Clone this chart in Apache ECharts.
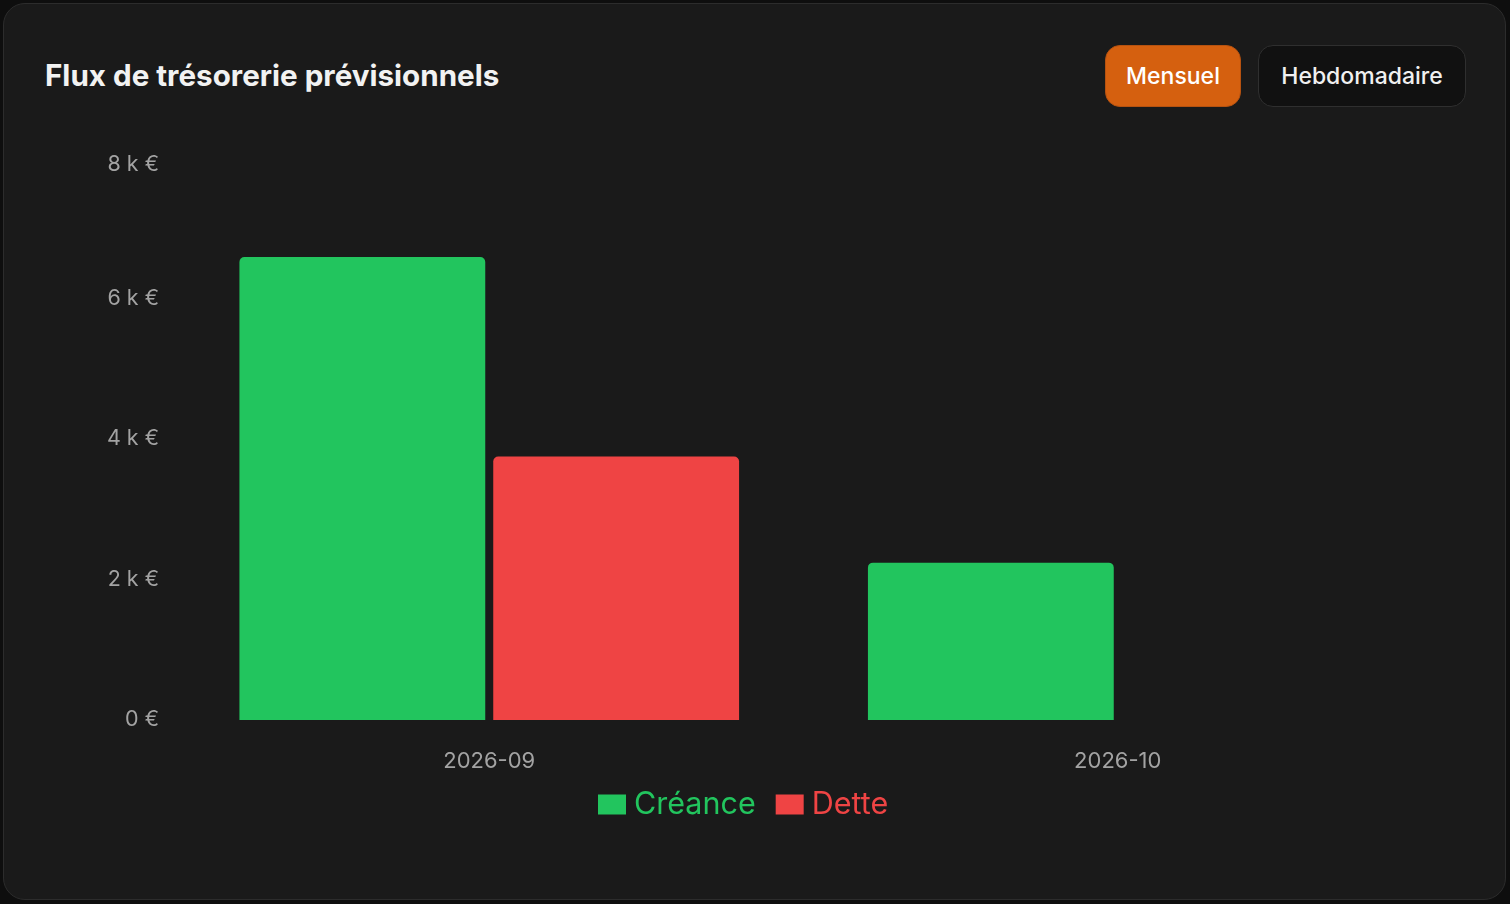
<!DOCTYPE html>
<html>
<head>
<meta charset="utf-8">
<script src="https://cdn.jsdelivr.net/npm/echarts@6/dist/echarts.min.js"></script>
<style>
  html, body { margin:0; padding:0; width:1510px; height:904px; background:#0e0e0e; overflow:hidden; font-family: Inter, "Noto Sans", sans-serif; }
  #card { position:absolute; left:3px; top:3px; width:1501px; height:895px; border:1.5px solid #2c2c2c; border-radius:22px; background:#1a1a1a; }
  #title { position:absolute; left:45px; top:55px; color:#f2f2f2; font-size:29.6px; font-weight:700; line-height:40px; }
  .btn { position:absolute; top:45px; height:62px; border-radius:15px; box-sizing:border-box; display:flex; align-items:center; justify-content:center; font-size:23px; font-weight:500; }
  #b1 { left:1105px; width:136px; background:#d5600f; border:1.5px solid #b65210; color:#fff; }
  #b2 { left:1258px; width:208px; background:#111111; border:1.5px solid #2f2f2f; color:#f0f0f0; }
  #chart { position:absolute; left:0; top:0; width:1510px; height:904px; }
</style>
</head>
<body>
<div id="card"></div>
<div id="title">Flux de trésorerie prévisionnels</div>
<div class="btn" id="b1">Mensuel</div>
<div class="btn" id="b2">Hebdomadaire</div>
<div id="chart"></div>
<script>
const categories = ['2026-09', '2026-10'];
const creance = [6590, 2240];
const dette = [3750, 0];
const seriesNames = ['Créance', 'Dette'];
const yTicks = [0, 2000, 4000, 6000, 8000];

const yMax = yTicks[yTicks.length - 1];
const chart = echarts.init(document.getElementById('chart'), null, { renderer: 'canvas' });
chart.setOption({
  backgroundColor: 'transparent',
  animation: false,
  grid: { left: 175, right: 78, top: 158, bottom: 184, containLabel: false },
  legend: {
    bottom: 79, left: 593,
    icon: 'rect', itemWidth: 28, itemHeight: 20, itemGap: 20,
    data: [
      { name: seriesNames[0], textStyle: { color: '#22c55e' } },
      { name: seriesNames[1], textStyle: { color: '#ef4444' } }
    ],
    textStyle: { fontSize: 30.5, fontFamily: 'Inter, sans-serif', padding: [0, 0, 0, 3] }
  },
  xAxis: {
    type: 'category', data: categories,
    axisLine: { show: false }, axisTick: { show: false },
    axisLabel: { color: '#a3a3a3', fontSize: 22, fontFamily: 'Inter, sans-serif', margin: 30 }
  },
  yAxis: {
    type: 'value', min: yTicks[0], max: yMax, interval: 2000,
    splitLine: { show: false }, axisLine: { show: false }, axisTick: { show: false },
    axisLabel: {
      color: '#a3a3a3', fontSize: 21.5, fontFamily: 'Inter, sans-serif', margin: 16,
      formatter: v => {
        const s = v === 0 ? '0 €' : (v / 1000) + ' k €';
        return v === yMax ? '{top|' + s + '}' : s;
      },
      rich: { top: { color: '#a3a3a3', fontSize: 21.5, fontFamily: 'Inter, sans-serif', padding: [13, 0, 0, 0] } }
    }
  },
  series: [
    { name: seriesNames[0], type: 'bar', data: creance, barGap: '3.25%', barCategoryGap: '20.5%',
      itemStyle: { color: '#22c55e', borderRadius: [5, 5, 0, 0] } },
    { name: seriesNames[1], type: 'bar', data: dette,
      itemStyle: { color: '#ef4444', borderRadius: [5, 5, 0, 0] } }
  ]
});
</script>
</body>
</html>
